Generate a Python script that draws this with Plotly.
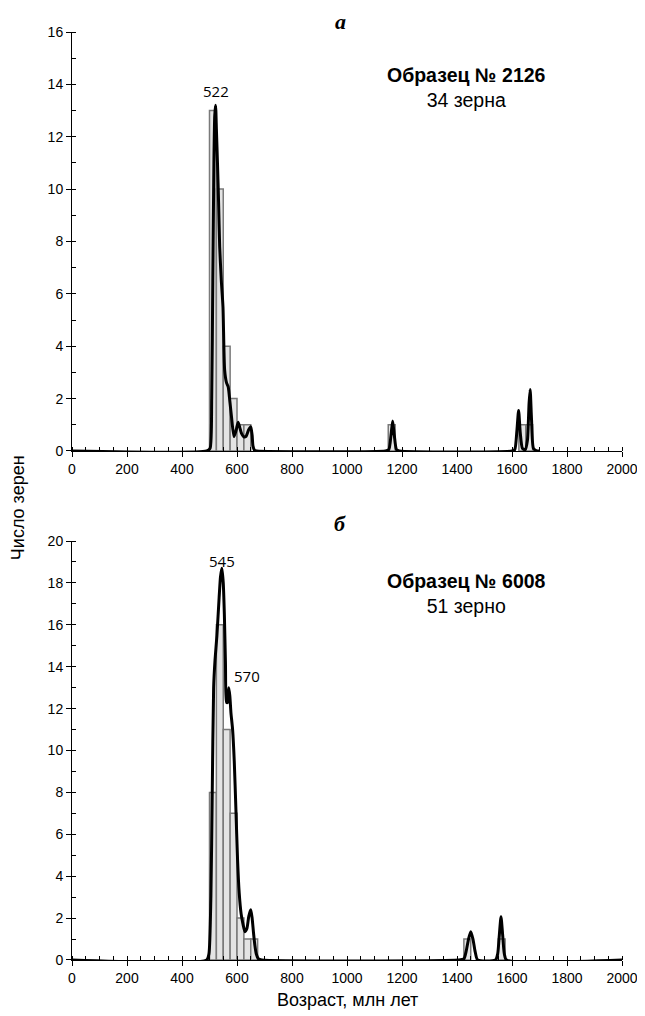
import plotly.graph_objects as go

BIN_W = 25

# Panel а — sample 2126
top_bin_start = [500, 525, 550, 575, 600, 625, 1150, 1625, 1650]
top_counts = [13, 10, 4, 2, 1, 1, 1, 1, 1]
top_curve_age = [0, 490, 502, 508, 512, 516, 519, 522, 525, 529, 533, 537, 543, 549, 555, 562,
                 568, 574, 580, 589, 597, 604, 610, 616, 624, 632, 642, 650, 655, 658, 664, 672,
                 1140, 1152, 1160, 1166, 1172, 1180, 1190,
                 1600, 1610, 1618, 1624, 1630, 1638, 1648, 1656, 1662, 1666, 1671, 1678, 1690, 1700]
top_curve_val = [0, 0, 0.1, 2, 6.5, 11, 12.8, 13.2, 12.3, 11, 9.5, 7.8, 6.5, 5.5, 3.1, 2.6,
                 2.45, 1.9, 1.3, 0.55, 0.8, 1.1, 0.9, 0.68, 0.55, 0.55, 0.8, 0.93, 0.6, 0.2, 0.02, 0,
                 0, 0.05, 0.6, 1.15, 0.6, 0.05, 0,
                 0, 0.05, 0.8, 1.55, 0.7, 0.1, 0.05, 0.4, 1.8, 2.35, 1.2, 0.1, 0, 0]

# Panel б — sample 6008
bot_bin_start = [500, 525, 550, 575, 600, 625, 650, 1425, 1550]
bot_counts = [8, 16, 11, 7, 2, 1, 1, 1, 1]
bot_curve_age = [0, 490, 498, 505, 510, 515, 520, 527, 535, 540, 545, 550, 554, 558, 562, 566,
                 570, 574, 578, 584, 590, 596, 602, 608, 615, 622, 629, 636, 643, 650, 655, 660,
                 665, 670, 678, 690,
                 1405, 1425, 1433, 1442, 1450, 1458, 1466, 1475, 1540, 1548, 1554, 1560, 1566,
                 1572, 1580, 2000]
bot_curve_val = [0, 0, 0.3, 3, 8, 13, 14.3, 15.5, 17.3, 18.3, 18.7, 18.0, 16.5, 14.2, 12.3, 12.3,
                 13.0, 12.6, 11.8, 11.0, 9.5, 7.2, 4.8, 3.2, 2.2, 1.7, 1.35, 1.5, 2.1, 2.4, 2.0, 1.3,
                 0.7, 0.3, 0.05, 0,
                 0, 0.05, 0.4, 1.0, 1.35, 1.0, 0.4, 0, 0, 0.3, 1.2, 2.06, 1.2, 0.3, 0, 0]

fig = go.Figure()

bar_style = dict(marker=dict(color="#e4e4e4", line=dict(color="#7a7a7a", width=1.5)),
                 width=BIN_W, showlegend=False, hoverinfo="skip")
line_style = dict(mode="lines", line=dict(color="black", width=3, shape="spline", smoothing=0.6),
                  showlegend=False)

fig.add_trace(go.Bar(x=[s + BIN_W / 2 for s in top_bin_start], y=top_counts,
                     xaxis="x", yaxis="y", **bar_style))
fig.add_trace(go.Scatter(x=top_curve_age, y=top_curve_val, xaxis="x", yaxis="y", **line_style))
fig.add_trace(go.Bar(x=[s + BIN_W / 2 for s in bot_bin_start], y=bot_counts,
                     xaxis="x2", yaxis="y2", **bar_style))
fig.add_trace(go.Scatter(x=bot_curve_age, y=bot_curve_val, xaxis="x2", yaxis="y2", **line_style))

tickfont = dict(family="Liberation Sans, Arial, sans-serif", size=14, color="black")
xcommon = dict(range=[0, 2000], tickvals=list(range(0, 2001, 200)), showline=True,
               linecolor="black", linewidth=1, ticks="outside", ticklen=5, tickcolor="black",
               tickfont=tickfont, showgrid=False, zeroline=False, automargin=False,
               ticklabeloverflow="allow",
               minor=dict(dtick=50, ticks="inside", ticklen=4, tickcolor="black"))
ycommon = dict(showline=True, linecolor="black", linewidth=1, ticks="outside", ticklen=5,
               tickcolor="black", tickfont=tickfont, showgrid=False, zeroline=False,
               automargin=False,
               minor=dict(dtick=1, ticks="inside", ticklen=4, tickcolor="black"))

fig.update_layout(
    width=637, height=1008,
    margin=dict(l=64, r=23, t=24, b=56),
    plot_bgcolor="white", paper_bgcolor="white",
    barmode="overlay",
    xaxis=dict(domain=[0, 1], anchor="y", **xcommon),
    yaxis=dict(domain=[0.5485, 1], anchor="x", range=[0, 16], dtick=2, **ycommon),
    xaxis2=dict(domain=[0, 1], anchor="y2", **xcommon),
    yaxis2=dict(domain=[0, 0.4515], anchor="x2", range=[0, 20], dtick=2, **ycommon),
)

peakfont = dict(family="Open Sans, Noto Sans, sans-serif", size=15, color="black")
sans = "Liberation Sans, Arial, sans-serif"
serif = "Liberation Serif, Times New Roman, serif"
annots = [
    dict(x=522, y=13.2, xref="x", yref="y", text="522", showarrow=False, yanchor="bottom",
         xanchor="center", yshift=2, font=peakfont),
    dict(x=545, y=18.7, xref="x2", yref="y2", text="545", showarrow=False, yanchor="bottom",
         xanchor="center", yshift=-5, font=peakfont),
    dict(x=580, y=13.0, xref="x2", yref="y2", text="570", showarrow=False, yanchor="bottom",
         xanchor="left", yshift=0, font=peakfont),
    dict(x=0.488, y=1.0 + 24 / 928, xref="paper", yref="paper", text="<b><i>а</i></b>",
         showarrow=False, xanchor="center", yanchor="top", borderpad=0,
         font=dict(family=serif, size=22, color="black")),
    dict(x=0.488, y=0.4515, xref="paper", yref="paper", text="<b><i>б</i></b>", showarrow=False,
         xanchor="center", yanchor="bottom", yshift=3,
         font=dict(family=serif, size=22, color="black")),
    dict(x=0.718, y=0.94, xref="paper", yref="paper",
         text="<b>Образец № 2126</b><br>34 зерна", showarrow=False, align="center",
         xanchor="center", yanchor="middle",
         font=dict(family=sans, size=19.5, color="black")),
    dict(x=0.718, y=0.395, xref="paper", yref="paper",
         text="<b>Образец № 6008</b><br>51 зерно", showarrow=False, align="center",
         xanchor="center", yanchor="middle",
         font=dict(family=sans, size=19.5, color="black")),
    dict(x=-0.098, y=0.487, xref="paper", yref="paper", text="Число зерен", textangle=-90,
         showarrow=False, xanchor="center", yanchor="middle",
         font=dict(family=sans, size=18, color="black")),
    dict(x=0.5, y=-0.043, xref="paper", yref="paper", text="Возраст, млн лет",
         showarrow=False, xanchor="center", yanchor="middle",
         font=dict(family=sans, size=18, color="black")),
]
fig.update_layout(annotations=annots)

fig.write_html("out.html")
